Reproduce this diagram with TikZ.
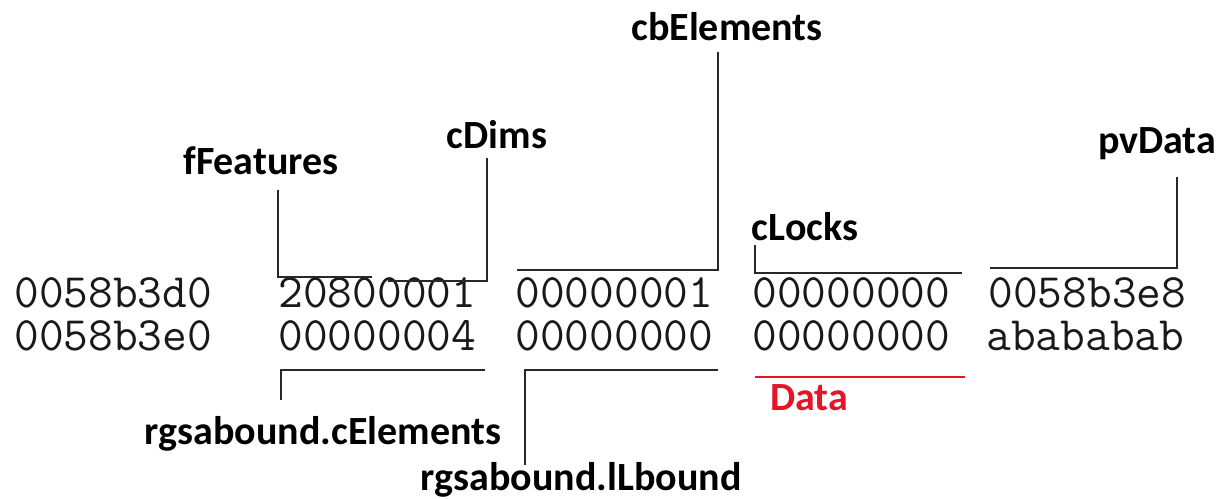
\documentclass[tikz,border=0pt]{standalone}
\usepackage{fontspec}
\newfontfamily\lblfont{Carlito}[BoldFont=* Bold]
\definecolor{lineclr}{RGB}{40,40,40}
\definecolor{hexclr}{RGB}{25,25,25}
\definecolor{datared}{RGB}{230,20,40}
\begin{document}
\begin{tikzpicture}[x=0.5pt,y=-0.5pt,
  hex/.style={anchor=west,inner sep=0pt,font=\ttfamily\fontsize{24}{26}\selectfont,text=hexclr,text height=0.6em,text depth=0pt},
  lbl/.style={anchor=base,inner sep=0pt,font=\lblfont\bfseries\fontsize{20}{22}\selectfont},
  lead/.style={draw=lineclr,line width=1pt}]
\useasboundingbox (0,0) rectangle (1220,498);
% hex dump
\node[hex] (a0) at (14,301) {0058b3d0};
\node[hex] (a1) at (14,344) {0058b3e0};
\node[hex] (f1) at (278,301) {20800001};
\node[hex] (f2) at (515,301) {00000001};
\node[hex] (f3) at (752,301) {00000000};
\node[hex] (f4) at (988,301) {0058b3e8};
\node[hex] (g1) at (278,344) {00000004};
\node[hex] (g2) at (515,344) {00000000};
\node[hex] (g3) at (752,344) {00000000};
\node[hex] (g4) at (986,344) {abababab};
% labels
\node[lbl] (fFeat) at (261,174) {fFeatures};
\node[lbl] (cDims) at (497,148) {cDims};
\node[lbl] (cbEl) at (727,40) {cbElements};
\node[lbl] (cLocks) at (805,240) {cLocks};
\node[lbl] (pvData) at (1157,153) {pvData};
\node[lbl] (rgsE) at (323,444) {rgsabound.cElements};
\node[lbl] (rgsL) at (581,490) {rgsabound.lLbound};
\node[lbl,text=datared] (data) at (809,410) {Data};
% leader coordinates
\coordinate (fFa) at (278,190); \coordinate (fFb) at (278,277); \coordinate (fFc) at (372,277);
\coordinate (cDa) at (487,158); \coordinate (cDb) at (487,281); \coordinate (cDc) at (388,281);
\coordinate (cba) at (718,52); \coordinate (cbb) at (718,270); \coordinate (cbc) at (517,270);
\coordinate (cLa) at (755,245); \coordinate (cLb) at (755,273); \coordinate (cLc) at (962,273);
\coordinate (pva) at (1177,177); \coordinate (pvb) at (1177,268); \coordinate (pvc) at (990,268);
\coordinate (rEa) at (281,400); \coordinate (rEb) at (281,370); \coordinate (rEc) at (485,370);
\coordinate (rLa) at (525,465); \coordinate (rLb) at (525,370); \coordinate (rLc) at (718,370);
\coordinate (dta) at (755,377); \coordinate (dtb) at (965,377);
% leaders
\draw[lead] (fFa) -- (fFb) -- (fFc);
\draw[lead] (cDa) -- (cDb) -- (cDc);
\draw[lead] (cba) -- (cbb) -- (cbc);
\draw[lead] (cLa) -- (cLb) -- (cLc);
\draw[lead] (pva) -- (pvb) -- (pvc);
\draw[lead] (rEa) -- (rEb) -- (rEc);
\draw[lead] (rLa) -- (rLb) -- (rLc);
\draw[line width=1.2pt,draw=datared] (dta) -- (dtb);
\end{tikzpicture}
\end{document}
